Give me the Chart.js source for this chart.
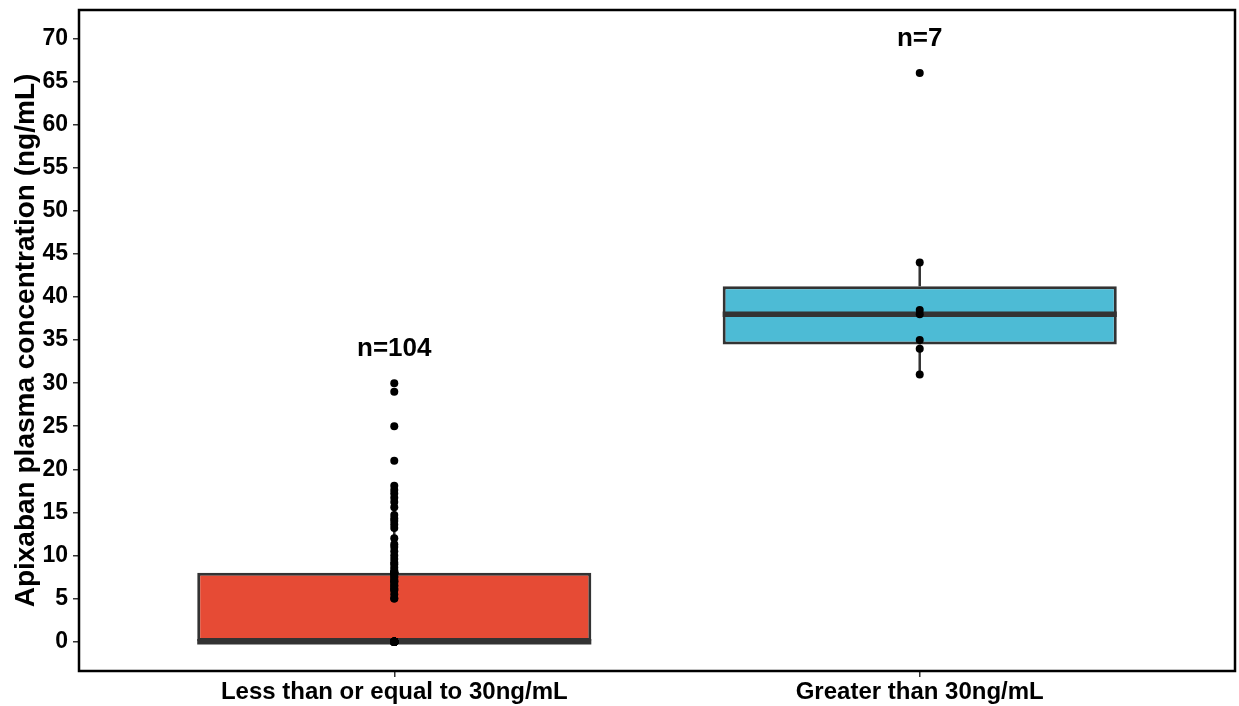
<!DOCTYPE html>
<html>
<head>
<meta charset="utf-8">
<title>Apixaban plasma concentration by group</title>
<script src="https://cdn.jsdelivr.net/npm/chart.js@4.4.1/dist/chart.umd.min.js"></script>
<style>
  html, body { margin: 0; padding: 0; background: #ffffff; }
  canvas { display: block; }
</style>
</head>
<body>
<canvas id="chart" width="1239" height="706"></canvas>
<script>
// Group names shown on the x axis
const groups = ['Less than or equal to 30ng/mL', 'Greater than 30ng/mL'];

// Individual apixaban concentrations (ng/mL), one value per patient
const lowGroup = [
  0, 0, 0, 0, 0, 0, 0, 0, 0, 0,
  0, 0, 0, 0, 0, 0, 0, 0, 0, 0,
  0, 0, 0, 0, 0, 0, 0, 0, 0, 0,
  0, 0, 0, 0, 0, 0, 0, 0, 0, 0,
  0, 0, 0, 0, 0, 0, 0, 0, 0, 0,
  0, 0, 0, 0, 0, 0, 0, 0,
  5, 5, 5.5, 6, 6, 6.2, 6.5, 6.5, 6.8, 7,
  7, 7.2, 7.5, 7.5, 7.8, 8, 8, 8, 8, 8, 8,
  8.3, 8.6, 9, 9.2, 9.6, 10, 10.5, 11, 11.3, 12,
  13.2, 13.6, 14, 14.3, 14.7, 15.6, 16.2, 16.7, 17.2, 17.6,
  18.1, 21, 25, 29, 30
];
const highGroup = [31, 34, 35, 38, 38.5, 44, 66];

// Box fill colours per group
const boxColors = ['#E64B35', '#4DBBD5'];

// Y axis tick values
const yTicks = [0, 5, 10, 15, 20, 25, 30, 35, 40, 45, 50, 55, 60, 65, 70];

const samples = [lowGroup, highGroup];

// Quantile with linear interpolation between order statistics
function quantile(sorted, p) {
  const h = (sorted.length - 1) * p;
  const lo = Math.floor(h);
  const hi = Math.ceil(h);
  return sorted[lo] + (h - lo) * (sorted[hi] - sorted[lo]);
}

// Five-number summary with 1.5 x IQR whiskers
const stats = samples.map(values => {
  const s = [...values].sort((a, b) => a - b);
  const q1 = quantile(s, 0.25);
  const med = quantile(s, 0.5);
  const q3 = quantile(s, 0.75);
  const iqr = q3 - q1;
  const upper = Math.max(...s.filter(v => v <= q3 + 1.5 * iqr));
  const lower = Math.min(...s.filter(v => v >= q1 - 1.5 * iqr));
  return { q1, med, q3, upper, lower, max: s[s.length - 1], n: s.length };
});

const boxData = stats.map((st, i) => ({ x: i + 1, y: [st.q1, st.q3] }));
const pointData = [];
samples.forEach((values, i) => values.forEach(v => pointData.push({ x: i + 1, y: v })));

const INK = '#333333';
const FONT = "'Liberation Sans', Arial, sans-serif";

// Whiskers behind the boxes, medians on top of them, counts above each group
const boxExtras = {
  id: 'boxExtras',
  beforeDatasetsDraw(chart) {
    const ctx = chart.ctx;
    const y = chart.scales.y;
    const bars = chart.getDatasetMeta(0).data;
    ctx.save();
    ctx.strokeStyle = INK;
    ctx.lineWidth = 2.5;
    stats.forEach((st, i) => {
      const x = bars[i].x;
      ctx.beginPath();
      ctx.moveTo(x, y.getPixelForValue(st.q3));
      ctx.lineTo(x, y.getPixelForValue(st.upper));
      ctx.moveTo(x, y.getPixelForValue(st.q1));
      ctx.lineTo(x, y.getPixelForValue(st.lower));
      ctx.stroke();
    });
    ctx.restore();
  },
  afterDatasetDraw(chart, args) {
    if (args.index !== 0) return;
    const ctx = chart.ctx;
    const y = chart.scales.y;
    const bars = chart.getDatasetMeta(0).data;
    ctx.save();
    ctx.strokeStyle = INK;
    ctx.lineWidth = 5.5;
    ctx.lineCap = 'butt';
    stats.forEach((st, i) => {
      const b = bars[i];
      const py = y.getPixelForValue(st.med);
      ctx.beginPath();
      ctx.moveTo(b.x - b.width / 2, py);
      ctx.lineTo(b.x + b.width / 2, py);
      ctx.stroke();
    });
    ctx.restore();
  },
  afterDraw(chart) {
    const ctx = chart.ctx;
    const a = chart.chartArea;
    const y = chart.scales.y;
    const bars = chart.getDatasetMeta(0).data;
    ctx.save();
    ctx.fillStyle = '#000000';
    ctx.font = "bold 26px " + FONT;
    ctx.textAlign = 'center';
    ctx.textBaseline = 'middle';
    stats.forEach((st, i) => {
      ctx.fillText('n=' + st.n, bars[i].x, y.getPixelForValue(st.max + 4));
    });
    ctx.strokeStyle = '#000000';
    ctx.lineWidth = 2.5;
    ctx.strokeRect(a.left, a.top, a.right - a.left, a.bottom - a.top);
    ctx.restore();
  }
};

new Chart(document.getElementById('chart'), {
  type: 'bar',
  data: {
    datasets: [
      {
        type: 'bar',
        data: boxData,
        backgroundColor: boxColors,
        borderColor: INK,
        borderWidth: 3,
        borderSkipped: false,
        categoryPercentage: 1,
        barPercentage: 0.75,
        order: 2
      },
      {
        type: 'scatter',
        data: pointData,
        pointRadius: 4,
        pointBackgroundColor: '#000000',
        pointBorderWidth: 0,
        showLine: false,
        order: 1
      }
    ]
  },
  options: {
    responsive: false,
    animation: false,
    devicePixelRatio: 1,
    layout: { padding: { top: 10, right: 2, left: 0, bottom: 0 } },
    plugins: {
      legend: { display: false },
      tooltip: { enabled: false }
    },
    scales: {
      x: {
        type: 'linear',
        min: 0.4,
        max: 2.6,
        offset: false,
        afterBuildTicks(scale) { scale.ticks = [{ value: 1 }, { value: 2 }]; },
        afterFit(scale) {
          scale.height = 35;
          scale.paddingLeft = 0;
          scale.paddingRight = 0;
        },
        ticks: {
          callback: (v, i) => groups[i],
          color: '#000000',
          font: { family: FONT, size: 24, weight: 'bold' },
          padding: 1,
          maxRotation: 0,
          autoSkip: false
        },
        grid: { display: true, offset: false, drawOnChartArea: false, drawTicks: true, tickLength: 6, color: INK, lineWidth: 1.5 },
        border: { display: false }
      },
      y: {
        type: 'linear',
        min: -3.4,
        max: 73.3,
        afterBuildTicks(scale) { scale.ticks = yTicks.map(v => ({ value: v })); },
        afterFit(scale) {
          scale.width = 79;
          scale.paddingTop = 0;
          scale.paddingBottom = 0;
        },
        ticks: {
          color: '#000000',
          font: { family: FONT, size: 23, weight: 'bold' },
          padding: 5,
          autoSkip: false
        },
        grid: { display: true, offset: false, drawOnChartArea: false, drawTicks: true, tickLength: 6, color: INK, lineWidth: 1.5 },
        border: { display: false },
        title: {
          display: true,
          text: 'Apixaban plasma concentration (ng/mL)',
          color: '#000000',
          font: { family: FONT, size: 28, weight: 'bold' },
          padding: { top: 9, bottom: 0 }
        }
      }
    }
  },
  plugins: [boxExtras]
});
</script>
</body>
</html>
